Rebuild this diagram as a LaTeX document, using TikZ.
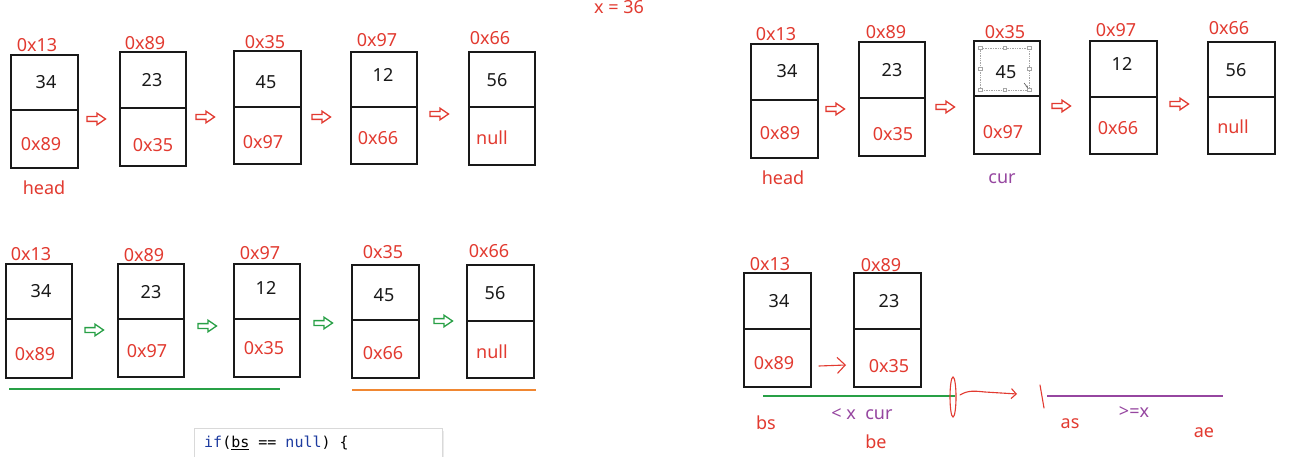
\documentclass[tikz,border=0pt]{standalone}
\usepackage{fontspec}
\setmainfont{Noto Sans}
\newfontfamily\codefont{DejaVu Sans Mono}
\usetikzlibrary{fit,shapes.geometric,arrows.meta}
\definecolor{lred}{RGB}{226,58,48}
\definecolor{lpurple}{RGB}{150,70,160}
\definecolor{lgreen}{RGB}{40,160,70}
\definecolor{lorange}{RGB}{240,135,50}
\definecolor{kwblue}{RGB}{30,60,160}
\tikzset{
  boxst/.style={draw=black!90, line width=1.7pt, inner sep=0pt},
  divline/.style={draw=black!90, line width=1.7pt},
  lbl/.style={text=lred, font=\fontsize{18}{18}\selectfont, inner sep=0pt},
  num/.style={text=black!90, font=\fontsize{18}{18}\selectfont, inner sep=0pt},
  plbl/.style={text=lpurple, font=\fontsize{18}{18}\selectfont, inner sep=0pt},
  hand/.style={draw=lred, line width=1.1pt, line cap=round, line join=round},
  pics/harrow/.style={code={
    \draw[#1, line width=1.3pt, line join=miter, fill=white]
      (-9,-2.4) -- (1,-2.4) -- (1,-5.8) -- (9.5,0) -- (1,5.8) -- (1,2.4) -- (-9,2.4) -- cycle;}},
  handle/.style={draw=gray!70, fill=white, line width=0.5pt, minimum size=3.5pt, inner sep=0pt}
}
\newcommand\llbox[6]{%
  \coordinate (#1-tl) at (#2,#3);
  \coordinate (#1-br) at (#4,#5);
  \node[boxst, fit=(#1-tl)(#1-br)] (#1) {};
  \draw[divline] (#1.west |- 0,#6) -- (#1.east |- 0,#6);
}
\begin{document}
\begin{tikzpicture}[x=1pt,y=-1pt]
\useasboundingbox (0,0) rectangle (1300,457);
\clip (0,0) rectangle (1300,457);
\fill[white] (0,0) rectangle (1300,457);

% ---------- x = 36
\node[lbl] (xval) at (619,7) {x = 36};

% ---------- Row 1 left
\llbox{A1}{11}{55}{78}{168}{110}
\llbox{A2}{120}{52}{186}{166}{108}
\llbox{A3}{234}{51}{301}{164}{107}
\llbox{A4}{351}{52}{417}{164}{107}
\llbox{A5}{469}{52}{535}{165}{107}
\node[lbl] (A1a) at (37,45) {0x13};
\node[num] (A1v) at (46,82) {34};
\node[lbl] (A1n) at (41,144) {0x89};
\node[lbl] (A1h) at (44,188) {head};
\node[lbl] (A2a) at (145,43) {0x89};
\node[num] (A2v) at (152,80) {23};
\node[lbl] (A2n) at (153,145) {0x35};
\node[lbl] (A3a) at (265,42) {0x35};
\node[num] (A3v) at (266,82) {45};
\node[lbl] (A3n) at (263,142) {0x97};
\node[lbl] (A4a) at (377,40) {0x97};
\node[num] (A4v) at (383,75) {12};
\node[lbl] (A4n) at (378,138) {0x66};
\node[lbl] (A5a) at (490,38) {0x66};
\node[num] (A5v) at (497,80) {56};
\node[lbl] (A5n) at (492,138) {null};
\pic (Aar1) at (96,119) {harrow=lred};
\pic (Aar2) at (205,117) {harrow=lred};
\pic (Aar3) at (321,117) {harrow=lred};
\pic (Aar4) at (439,114) {harrow=lred};

% ---------- Row 1 right
\llbox{B1}{751}{44}{818}{158}{100}
\llbox{B2}{859}{42}{925}{156}{98}
\llbox{B3}{974}{41}{1040}{154}{96}
\llbox{B4}{1090}{41}{1157}{154}{97}
\llbox{B5}{1208}{42}{1275}{154}{97}
\node[lbl] (B1a) at (776,34) {0x13};
\node[num] (B1v) at (787,71) {34};
\node[lbl] (B1n) at (780,133) {0x89};
\node[lbl] (B1h) at (783,178) {head};
\node[lbl] (B2a) at (886,32) {0x89};
\node[num] (B2v) at (892,70) {23};
\node[lbl] (B2n) at (893,134) {0x35};
\node[lbl] (B3a) at (1005,32) {0x35};
\node[num] (B3v) at (1006,72) {45};
\node[lbl] (B3n) at (1003,132) {0x97};
\node[plbl] (B3c) at (1002,179) {cur};
\node[lbl] (B4a) at (1116,30) {0x97};
\node[num] (B4v) at (1122,64) {12};
\node[lbl] (B4n) at (1118,128) {0x66};
\node[lbl] (B5a) at (1229,28) {0x66};
\node[num] (B5v) at (1236,70) {56};
\node[lbl] (B5n) at (1233,127) {null};
\pic (Bar1) at (835,109) {harrow=lred};
\pic (Bar2) at (945,107) {harrow=lred};
\pic (Bar3) at (1061,106) {harrow=lred};
\pic (Bar4) at (1179,104) {harrow=lred};
% selection frame around 45
\draw[gray!70, densely dotted, line width=0.7pt] (980,48) rectangle (1029,90);
\foreach \hx/\hy [count=\i] in {980/48,1004.5/48,1029/48,980/69,1029/69,980/90,1004.5/90,1029/90}
  \node[handle] (sel\i) at (\hx,\hy) {};
\draw[gray!70!black, line width=0.6pt, -{Stealth[length=2.5pt]}] (1024,83) -- (1028,88);

% ---------- Row 2 left
\llbox{C1}{6}{264}{72}{378}{319}
\llbox{C2}{118}{264}{184}{377}{319}
\llbox{C3}{234}{264}{300}{377}{319}
\llbox{C4}{352}{265}{419}{378}{320}
\llbox{C5}{467}{265}{534}{378}{321}
\node[lbl] (C1a) at (31,254) {0x13};
\node[num] (C1v) at (41,291) {34};
\node[lbl] (C1n) at (35,354) {0x89};
\node[lbl] (C2a) at (144,255) {0x89};
\node[num] (C2v) at (151,292) {23};
\node[lbl] (C2n) at (147,351) {0x97};
\node[lbl] (C3a) at (260,253) {0x97};
\node[num] (C3v) at (266,288) {12};
\node[lbl] (C3n) at (264,348) {0x35};
\node[lbl] (C4a) at (383,252) {0x35};
\node[num] (C4v) at (384,295) {45};
\node[lbl] (C4n) at (383,353) {0x66};
\node[lbl] (C5a) at (489,251) {0x66};
\node[num] (C5v) at (495,293) {56};
\node[lbl] (C5n) at (492,352) {null};
\pic (Car1) at (94,330) {harrow=lgreen};
\pic (Car2) at (207,326) {harrow=lgreen};
\pic (Car3) at (323,323) {harrow=lgreen};
\pic (Car4) at (443,321) {harrow=lgreen};
\coordinate (g1) at (9,389);
\coordinate (g2) at (280,389);
\draw[lgreen, line width=1.6pt] (g1) -- (g2);
\coordinate (o1) at (352,390);
\coordinate (o2) at (536,390);
\draw[lorange, line width=1.6pt] (o1) -- (o2);

% code snippet
\fill[black!8] (196,431) rectangle (444,470);
\node[draw=black!15, fill=white, line width=0.8pt, minimum width=248pt, minimum height=40pt, inner sep=0pt, anchor=north west] (code) at (194,428) {};
\node[anchor=west, inner sep=0pt, font=\codefont\fontsize{15}{15}\selectfont] (codetxt) at (204,443)
  {\textcolor{kwblue}{if}(\underline{bs} == \textcolor{kwblue}{null}) \{};

% ---------- Row 2 right
\llbox{D1}{744}{273}{811}{387}{329}
\llbox{D2}{854}{273}{921}{387}{329}
\node[lbl] (D1a) at (770,264) {0x13};
\node[num] (D1v) at (779,301) {34};
\node[lbl] (D1n) at (774,363) {0x89};
\node[lbl] (D2a) at (881,265) {0x89};
\node[num] (D2v) at (889,301) {23};
\node[lbl] (D2n) at (889,366) {0x35};
\coordinate (h1) at (819,366);
\coordinate (h2) at (846,365);
\draw[hand, -{Straight Barb[length=8pt,width=16pt,line width=1.1pt]}] (h1) -- (h2);
\coordinate (gr1) at (763,396);
\coordinate (gr2) at (955,396);
\draw[lgreen, line width=1.5pt] (gr1) -- (gr2);
\node[ellipse, draw=lred, line width=1.1pt, minimum width=6pt, minimum height=40pt, inner sep=0pt] (brk) at (953,397) {};
\coordinate (w1) at (960,395);
\coordinate (w2) at (1017,394);
\draw[hand, -{Straight Barb[length=5pt,width=10pt,line width=1.1pt]}] (w1) .. controls (968,390) and (975,391) .. (985,392) -- (w2);
\coordinate (t1) at (1040,385);
\coordinate (t2) at (1044,408);
\draw[hand] (t1) -- (t2);
\coordinate (p1) at (1047,396);
\coordinate (p2) at (1223,396);
\draw[lpurple, line width=1.5pt] (p1) -- (p2);
\node[lbl] (bs) at (766,423) {bs};
\node[plbl] (ltx) at (862,414) {<\ x\ \ cur};
\node[lbl] (be) at (876,442) {be};
\node[lbl] (as) at (1070,424) {as};
\node[plbl] (gex) at (1134,412) {>=x};
\node[lbl] (ae) at (1204,433) {ae};
\end{tikzpicture}
\end{document}
